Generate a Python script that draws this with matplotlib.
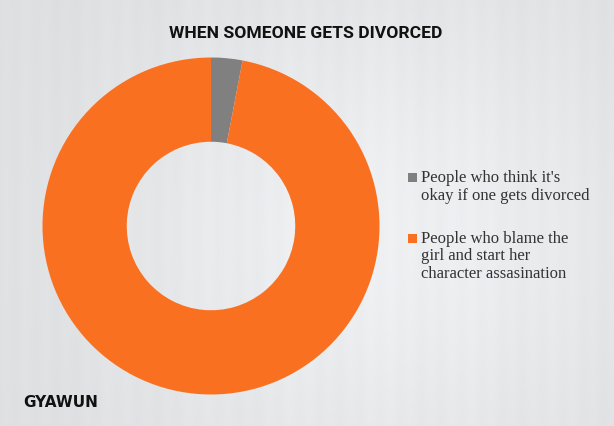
import numpy as np
import matplotlib
matplotlib.use("Agg")
import matplotlib.pyplot as plt
from matplotlib.patches import Rectangle

# ---- data ----
title = "WHEN SOMEONE GETS DIVORCED"
labels = ["People who think it's\nokay if one gets divorced",
          "People who blame the\ngirl and start her\ncharacter assasination"]
values = [3, 97]
colors = ["#808080", "#FA7021"]
watermark = "GYAWUN"

W, H = 614, 426
fig = plt.figure(figsize=(W / 100, H / 100), dpi=100)

# ---- background (light grey studio backdrop) ----
bg_ax = fig.add_axes([0, 0, 1, 1])
yy, xx = np.mgrid[0:H, 0:W]
xn = xx / W
yn = yy / H
light = 0.88 + 0.07 * np.exp(-(((xn - 0.62) / 0.45) ** 2 + ((yn - 0.55) / 0.6) ** 2))
light += 0.004 * np.sin(xx * 0.31) + 0.003 * np.sin(xx * 0.07)
light = np.clip(light, 0, 1)
img = np.dstack([light * 0.985, light * 0.99, light * 1.0])
img = np.clip(img, 0, 1)
bg_ax.imshow(img, extent=[0, 1, 0, 1], aspect="auto", origin="upper")
bg_ax.set_xlim(0, 1)
bg_ax.set_ylim(0, 1)
bg_ax.axis("off")

# ---- donut ----
cx, cy, r = 211, 426 - 226, 168.5
ax = fig.add_axes([(cx - r) / W, (cy - r) / H, 2 * r / W, 2 * r / H])
ax.pie(values, colors=colors, startangle=90, counterclock=False, radius=1,
       wedgeprops=dict(width=0.5, linewidth=0))
ax.set_xlim(-1, 1)
ax.set_ylim(-1, 1)
ax.set_aspect("equal")
ax.axis("off")

# ---- title & watermark ----
fig.text(306 / W, (H - 38) / H, title, ha="center", va="baseline",
         fontsize=12.6, fontweight="bold", family=["Roboto", "DejaVu Sans"], color="#111111")
fig.text(23 / W, (H - 407) / H, watermark, ha="left", va="baseline",
         fontsize=11, fontweight="bold", family="DejaVu Sans", color="#111111")

# ---- legend (marker aligned with first line) ----
entry_baselines = [182, 243]
line_step = 17.5
for lab, col, b in zip(labels, colors, entry_baselines):
    fig.patches.append(Rectangle((408 / W, (H - b) / H), 9 / W, 9 / H,
                                 transform=fig.transFigure, color=col, linewidth=0))
    for i, line in enumerate(lab.split("\n")):
        fig.text(421 / W, (H - b - i * line_step) / H, line, ha="left", va="baseline",
                 fontsize=12, family="Liberation Serif", color="#333333")

fig.savefig("out.png", dpi=100)
